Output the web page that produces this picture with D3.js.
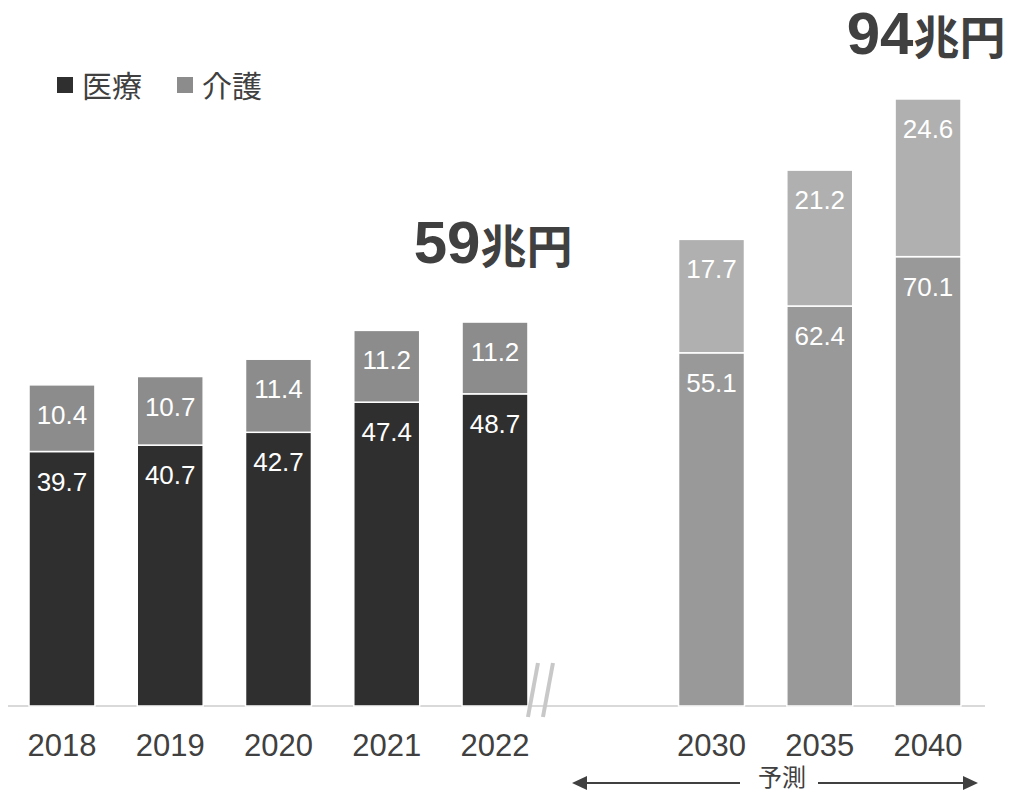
<!DOCTYPE html>
<html><head><meta charset="utf-8">
<script src="https://cdn.jsdelivr.net/npm/d3@7"></script>
<style>
html,body{margin:0;padding:0;background:#fff;}
text{font-family:"Liberation Sans","Noto Sans CJK JP",Arial,sans-serif;}
</style></head>
<body>
<svg id="c" width="1014" height="794"></svg>
<script>
const years = ["2018","2019","2020","2021","2022","2030","2035","2040"];
const slots = ["2018","2019","2020","2021","2022","gap","2030","2035","2040"];
const medical = [39.7, 40.7, 42.7, 47.4, 48.7, 55.1, 62.4, 70.1];
const care = [10.4, 10.7, 11.4, 11.2, 11.2, 17.7, 21.2, 24.6];
const forecast = [false,false,false,false,false,true,true,true];
const seriesNames = ["医療","介護"];
const totalLabels = [{year:"2022", num:"59", unit:"兆円"}, {year:"2040", num:"94", unit:"兆円"}];
const forecastLabel = "予測";

const svg = d3.select("#c");
const x = d3.scaleBand().domain(slots).range([29, 961]).paddingInner(0.391).paddingOuter(0);
const y = d3.scaleLinear().domain([0, 100]).range([706, 65]);
const colMed = f => f ? "#999999" : "#2f2f2f";
const colCare = f => f ? "#b0b0b0" : "#8c8c8c";
const textCol = "#404040";

// axis line
svg.append("line").attr("x1", 8).attr("x2", 985).attr("y1", y(0)).attr("y2", y(0))
  .attr("stroke", "#d9d9d9").attr("stroke-width", 2);

const data = years.map((yr, i) => ({yr, m: medical[i], c: care[i], f: forecast[i]}));
const g = svg.append("g");
const bar = g.selectAll("g.bar").data(data).join("g").attr("class","bar");
bar.append("rect").attr("x", d => x(d.yr)).attr("width", x.bandwidth())
  .attr("y", d => y(d.m)).attr("height", d => y(0) - y(d.m))
  .attr("fill", d => colMed(d.f)).attr("stroke", "#fff").attr("stroke-width", 1.5);
bar.append("rect").attr("x", d => x(d.yr)).attr("width", x.bandwidth())
  .attr("y", d => y(d.m + d.c)).attr("height", d => y(d.m) - y(d.m + d.c))
  .attr("fill", d => colCare(d.f)).attr("stroke", "#fff").attr("stroke-width", 1.5);
bar.append("text").attr("x", d => x(d.yr) + x.bandwidth()/2).attr("y", d => y(d.m) + 39)
  .attr("text-anchor","middle").attr("fill","#fff").attr("font-size", 26).text(d => d.m.toFixed(1));
bar.append("text").attr("x", d => x(d.yr) + x.bandwidth()/2).attr("y", d => y(d.m + d.c) + 39)
  .attr("text-anchor","middle").attr("fill","#fff").attr("font-size", 26).text(d => d.c.toFixed(1));

// x axis labels
const xAxis = d3.axisBottom(x).tickValues(years).tickSize(0).tickPadding(0);
const ax = svg.append("g").attr("transform", `translate(0,${y(0)})`).call(xAxis);
ax.select(".domain").remove();
ax.selectAll("text").attr("font-size", 31).attr("fill", textCol).attr("dy", null).attr("y", 50)
  .style("font-family", '"Liberation Sans","Noto Sans CJK JP",Arial,sans-serif');

// break marks
const gx = x("2022") + x.bandwidth();
[0, 15].forEach(o => {
  svg.append("line").attr("x1", gx + 10 + o).attr("y1", 663).attr("x2", gx + o).attr("y2", 717)
    .attr("stroke", "#c8c8c8").attr("stroke-width", 4);
});

// totals
const totalOffsets = {"2022": 59, "2040": 45};
totalLabels.forEach(t => {
  const i = years.indexOf(t.year);
  const top = y(medical[i] + care[i]);
  const tx = svg.append("text").attr("x", x(t.year) + x.bandwidth()/2 - 2).attr("y", top - totalOffsets[t.year])
    .attr("text-anchor","middle").attr("fill", textCol).attr("font-weight","bold");
  tx.append("tspan").attr("font-size", 60).text(t.num);
  tx.append("tspan").attr("font-size", 46).style("font-family", '"Noto Sans CJK JP",sans-serif').text(t.unit);
});

// legend
const lg = svg.append("g");
[[57, seriesNames[0], colMed(false)], [177, seriesNames[1], colCare(false)]].forEach(([lx, name, col]) => {
  lg.append("rect").attr("x", lx).attr("y", 77).attr("width", 16).attr("height", 16).attr("fill", col);
  lg.append("text").attr("x", lx + 25).attr("y", 97).attr("font-size", 30).attr("fill", textCol)
    .style("font-family", '"Noto Sans CJK JP",sans-serif').text(name);
});

// forecast arrow
const ay = 783;
const axL = 572, axR = 978, tc = 782;
svg.append("line").attr("x1", axL + 10).attr("x2", 740).attr("y1", ay).attr("y2", ay).attr("stroke", textCol).attr("stroke-width", 2);
svg.append("line").attr("x1", 818).attr("x2", axR - 10).attr("y1", ay).attr("y2", ay).attr("stroke", textCol).attr("stroke-width", 2);
svg.append("path").attr("d", `M${axL},${ay} L${axL+15},${ay-7} L${axL+15},${ay+7} Z`).attr("fill", textCol);
svg.append("path").attr("d", `M${axR},${ay} L${axR-15},${ay-7} L${axR-15},${ay+7} Z`).attr("fill", textCol);
svg.append("text").attr("x", tc).attr("y", 786).attr("text-anchor","middle").attr("font-size", 24)
  .attr("fill", textCol).style("font-family", '"Noto Sans CJK JP",sans-serif').text(forecastLabel);
</script>
</body></html>
